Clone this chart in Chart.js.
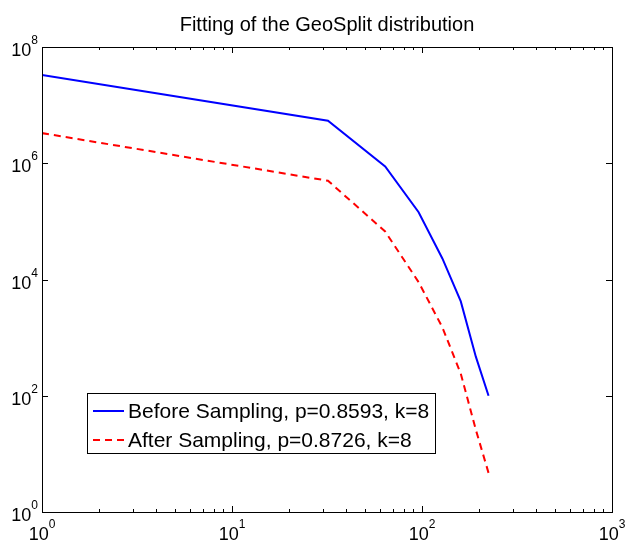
<!DOCTYPE html>
<html>
<head>
<meta charset="utf-8">
<script src="https://cdn.jsdelivr.net/npm/chart.js@4"></script>
<style>
  html, body { margin: 0; padding: 0; background: #fff; }
  #wrap { width: 628px; height: 543px; }
</style>
</head>
<body>
<div id="wrap"><canvas id="fitChart" width="628" height="543"></canvas></div>
<script>
const xValues = [1, 32, 64, 96, 128, 160, 192, 224];
const beforeValues = [3.3e7, 5.4e6, 8.8e5, 1.44e5, 2.3e4, 4.2e3, 4.7e2, 1.0e2];
const afterValues = [3.3e6, 5.0e5, 6.7e4, 9.0e3, 1.5e3, 2.4e2, 2.6e1, 4.7];
const seriesLabels = ['Before Sampling, p=0.8593, k=8', 'After Sampling, p=0.8726, k=8'];
const xTickExps = [0, 1, 2, 3];
const yTickExps = [0, 2, 4, 6, 8];
const titleText = 'Fitting of the GeoSplit distribution';

const FONT = '"Liberation Sans", Arial, Helvetica, sans-serif';

function toPoints(xs, ys) {
    return xs.map((x, i) => ({ x: x, y: ys[i] }));
}

// draws "10" with a raised exponent
function drawPow(ctx, exp, x, baseY, align) {
    ctx.font = '18px ' + FONT;
    const wBase = ctx.measureText('10').width;
    ctx.font = '12px ' + FONT;
    const wExp = ctx.measureText(String(exp)).width;
    const total = wBase + wExp;
    let left = x;
    if (align === 'center') left = x - total / 2;
    if (align === 'right') left = x - total;
    ctx.textAlign = 'left';
    ctx.textBaseline = 'alphabetic';
    ctx.font = '18px ' + FONT;
    ctx.fillText('10', left, baseY);
    ctx.font = '12px ' + FONT;
    ctx.fillText(String(exp), left + wBase, baseY - 12);
}

const matlabFrame = {
    id: 'matlabFrame',
    afterDatasetsDraw(chart) {
        const ctx = chart.ctx;
        const a = chart.chartArea;
        const xs = chart.scales.x;
        const ys = chart.scales.y;
        ctx.save();
        ctx.strokeStyle = '#000';
        ctx.fillStyle = '#000';
        ctx.lineWidth = 1;

        // x ticks (major + minor), bottom and top
        ctx.beginPath();
        for (let e = 0; e <= 3; e++) {
            for (let m = 1; m <= 9; m++) {
                const v = m * Math.pow(10, e);
                if (v > 1000) break;
                const px = Math.round(xs.getPixelForValue(v)) + 0.5;
                const len = m === 1 ? 6 : 3;
                ctx.moveTo(px, a.bottom);
                ctx.lineTo(px, a.bottom - len);
                ctx.moveTo(px, a.top);
                ctx.lineTo(px, a.top + len);
            }
        }
        // y ticks, left and right
        yTickExps.forEach(e => {
            const py = Math.round(ys.getPixelForValue(Math.pow(10, e))) + 0.5;
            ctx.moveTo(a.left, py);
            ctx.lineTo(a.left + 6, py);
            ctx.moveTo(a.right, py);
            ctx.lineTo(a.right - 6, py);
        });
        ctx.stroke();

        // box
        ctx.strokeRect(Math.round(a.left) + 0.5, Math.round(a.top) + 0.5,
            Math.round(a.right - a.left), Math.round(a.bottom - a.top));

        // tick labels
        xTickExps.forEach(e => {
            const px = xs.getPixelForValue(Math.pow(10, e));
            drawPow(ctx, e, px, a.bottom + 28, 'center');
        });
        yTickExps.forEach(e => {
            const py = ys.getPixelForValue(Math.pow(10, e));
            drawPow(ctx, e, a.left - 4, py + 9, 'right');
        });

        // title
        ctx.font = '20px ' + FONT;
        ctx.textAlign = 'center';
        ctx.fillText(titleText, (a.left + a.right) / 2, 31);

        // legend
        const lx = 87.5, ly = 393.5, lw = 348, lh = 60;
        ctx.fillStyle = '#fff';
        ctx.fillRect(lx, ly, lw, lh);
        ctx.strokeStyle = '#000';
        ctx.strokeRect(lx, ly, lw, lh);
        const rows = [411, 440];
        chart.data.datasets.forEach((ds, i) => {
            ctx.strokeStyle = ds.borderColor;
            ctx.lineWidth = 2;
            ctx.setLineDash(ds.borderDash || []);
            ctx.beginPath();
            ctx.moveTo(93, rows[i]);
            ctx.lineTo(124, rows[i]);
            ctx.stroke();
            ctx.setLineDash([]);
            ctx.fillStyle = '#000';
            ctx.font = '21px ' + FONT;
            ctx.textAlign = 'left';
            ctx.textBaseline = 'middle';
            ctx.fillText(ds.label, 128, rows[i] + 1);
        });
        ctx.restore();
    }
};

const ctx = document.getElementById('fitChart').getContext('2d');
new Chart(ctx, {
    type: 'line',
    data: {
        datasets: [{
            label: seriesLabels[0],
            data: toPoints(xValues, beforeValues),
            borderColor: '#0000ff',
            borderWidth: 2,
            pointRadius: 0,
            tension: 0
        }, {
            label: seriesLabels[1],
            data: toPoints(xValues, afterValues),
            borderColor: '#ff0000',
            borderWidth: 2,
            borderDash: [7, 5],
            pointRadius: 0,
            tension: 0
        }]
    },
    options: {
        responsive: false,
        animation: false,
        layout: {
            padding: { left: 42, top: 47, right: 16, bottom: 31 }
        },
        plugins: {
            legend: { display: false },
            title: { display: false },
            tooltip: { enabled: false }
        },
        scales: {
            x: {
                type: 'logarithmic',
                min: 1,
                max: 1000,
                display: false
            },
            y: {
                type: 'logarithmic',
                min: 1,
                max: 1e8,
                display: false
            }
        }
    },
    plugins: [matlabFrame]
});
</script>
</body>
</html>
